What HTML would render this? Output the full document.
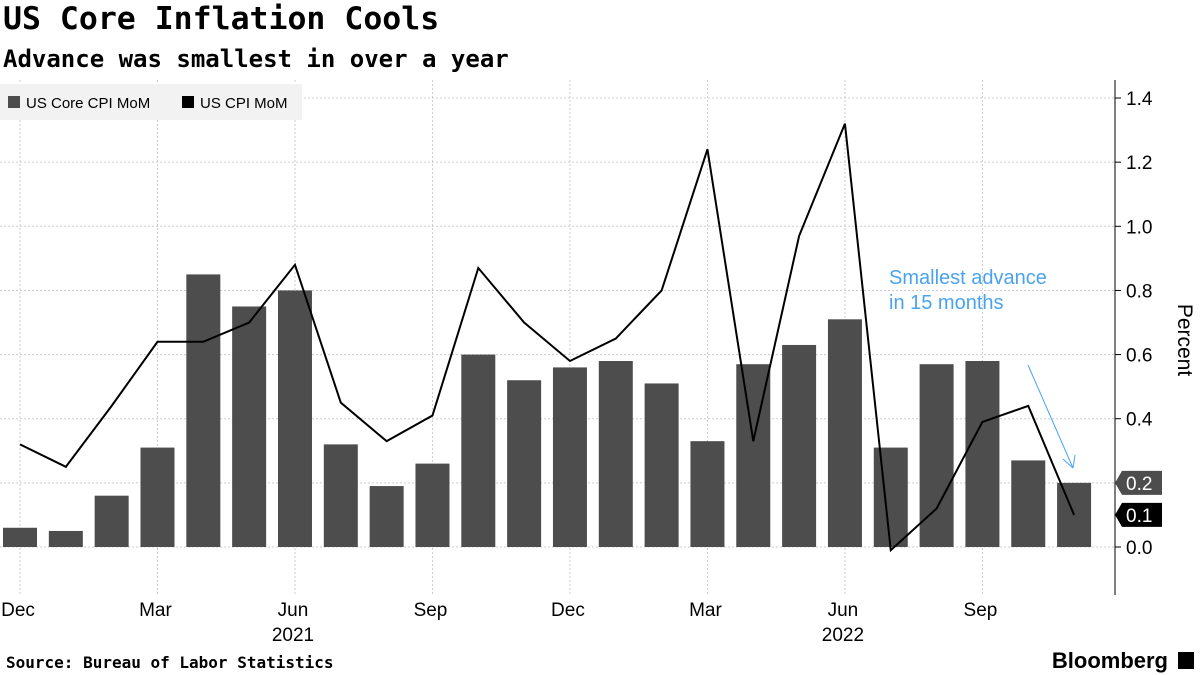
<!DOCTYPE html>
<html><head><meta charset="utf-8"><style>
body{margin:0;background:#fff;font-family:"Liberation Sans",sans-serif}
.t{position:absolute;left:3px;top:4px;font-family:"DejaVu Sans Mono","Liberation Mono",monospace;font-size:31.5px;font-weight:bold;color:#000;line-height:1}
.s{position:absolute;left:3px;top:47px;font-family:"DejaVu Sans Mono","Liberation Mono",monospace;font-size:24px;font-weight:bold;color:#000;line-height:1}
</style></head><body>
<div style="position:relative;width:1200px;height:675px;overflow:hidden">
<div class="t">US Core Inflation Cools</div>
<div class="s">Advance was smallest in over a year</div>
<svg id="c" width="1200" height="675" style="position:absolute;left:0;top:0"></svg>
</div>
<script>
const months=["Dec","Jan","Feb","Mar","Apr","May","Jun","Jul","Aug","Sep","Oct","Nov","Dec","Jan","Feb","Mar","Apr","May","Jun","Jul","Aug","Sep","Oct","Nov"];
const coreMoM=[0.06,0.05,0.16,0.31,0.85,0.75,0.80,0.32,0.19,0.26,0.60,0.52,0.56,0.58,0.51,0.33,0.57,0.63,0.71,0.31,0.57,0.58,0.27,0.20];
const cpiMoM=[0.32,0.25,0.44,0.64,0.64,0.70,0.88,0.45,0.33,0.41,0.87,0.70,0.58,0.65,0.80,1.24,0.33,0.97,1.32,-0.01,0.12,0.39,0.44,0.10];
const yTicks=[0,0.2,0.4,0.6,0.8,1.0,1.2,1.4];
const NS="http://www.w3.org/2000/svg",svg=document.getElementById('c');
const x=i=>20+i*45.83, y=v=>547-v*320.7;
function mk(t,a,txt){const e=document.createElementNS(NS,t);for(const k in a)e.setAttribute(k,a[k]);if(txt!=null)e.textContent=txt;svg.appendChild(e);return e;}
yTicks.forEach(v=>{
 const l=mk('line',{x1:0,x2:1115,y1:y(v),y2:y(v),stroke:'#ccc','stroke-dasharray':'2,2'});
 
 mk('line',{x1:1115,x2:1121,y1:y(v),y2:y(v),stroke:'#000'});
 const t=mk('text',{x:1126,y:y(v)+7,'font-size':19,fill:'#000'},v.toFixed(1));
 
});
months.forEach((m,i)=>{
 if(i%3===0){
  const g=mk('line',{x1:x(i),x2:x(i),y1:80,y2:595,stroke:'#ccc','stroke-dasharray':'2,2'});
  
  const t=mk('text',{x:x(i)-2,y:616,'font-size':19,'text-anchor':'middle',fill:'#000'},m);
  
 }
});
[[6,"2021"],[18,"2022"]].forEach(([i,s])=>{const t=mk('text',{x:x(i)-2,y:641,'font-size':19,'text-anchor':'middle'},s);
 });
coreMoM.forEach((v,i)=>{
 const b=mk('rect',{x:x(i)-17,y:Math.min(y(v),y(0)),width:34,height:Math.abs(y(v)-y(0)),fill:'#4d4d4d'});
 
});
const p=mk('polyline',{points:cpiMoM.map((v,i)=>x(i)+','+y(v)).join(' '),fill:'none',stroke:'#000','stroke-width':2});

mk('line',{x1:1115,x2:1115,y1:80,y2:595,stroke:'#000'});
function badge(v,fill,txt){const yy=y(v);
 const b=mk('path',{d:`M1115 ${yy} L1122 ${yy-12} H1162 V${yy+12} H1122 Z`,fill:fill});
 
 mk('text',{x:1126,y:yy+7,'font-size':19,fill:'#fff'},txt);}
badge(coreMoM[23],'#4d4d4d',coreMoM[23].toFixed(1));
badge(cpiMoM[23],'#000',cpiMoM[23].toFixed(1));
const at=mk('text',{x:1178,y:340,'font-size':21,'text-anchor':'middle',transform:'rotate(90 1178 340)'},'Percent');

const a1=mk('text',{x:889,y:284,'font-size':20,fill:'#4aa3f0'},'Smallest advance');

mk('text',{x:889,y:309,'font-size':20,fill:'#4aa3f0'},'in 15 months');
mk('line',{x1:1028,y1:365,x2:1073,y2:468,stroke:'#4aa3f0','stroke-width':1});
mk('path',{d:'M1073 468 L1063 459 M1073 468 L1075 455',stroke:'#4aa3f0',fill:'none'});
const lg=mk('rect',{x:0,y:84,width:302,height:36,fill:'#f2f2f2'});

mk('rect',{x:8,y:96,width:12,height:12,fill:'#4d4d4d'});
const l1=mk('text',{x:26,y:108,'font-size':15},'US Core CPI MoM');
mk('rect',{x:182,y:96,width:12,height:12,fill:'#000'});
const l2=mk('text',{x:200,y:108,'font-size':15},'US CPI MoM');
const src=mk('text',{x:6,y:668,'font-size':16,'font-weight':'bold','font-family':'DejaVu Sans Mono, Liberation Mono, monospace'},'Source: Bureau of Labor Statistics');

const bl=mk('text',{x:1168,y:668,'font-size':22,'font-weight':'bold','text-anchor':'end'},'Bloomberg');

mk('rect',{x:1178,y:652,width:16,height:17,fill:'#000'});
</script>
</body></html>
